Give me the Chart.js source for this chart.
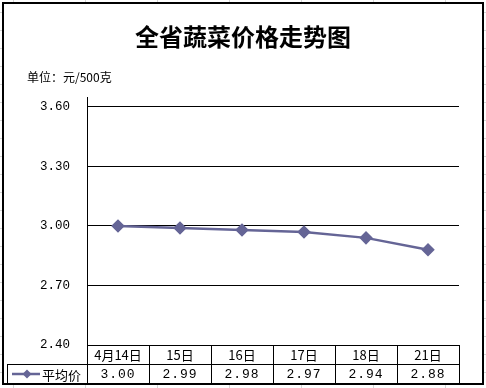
<!DOCTYPE html>
<html>
<head>
<meta charset="utf-8">
<script src="https://cdn.jsdelivr.net/npm/chart.js@4/dist/chart.umd.min.js"></script>
<style>
  html, body { margin: 0; padding: 0; background: #fff; }
  #chartBox { width: 486px; height: 388px; }
</style>
</head>
<body>
<div id="chartBox"><canvas id="chart" width="486" height="388"></canvas></div>
<script>
const categories = ['4月14日', '15日', '16日', '17日', '18日', '21日'];
const avgPrice = [3.00, 2.99, 2.98, 2.97, 2.94, 2.88];
const yTicks = [2.40, 2.70, 3.00, 3.30, 3.60];
const seriesName = '平均价';
const chartTitle = '全省蔬菜价格走势图';
const unitLabel = '单位：元/500克';

const lineColor = '#656596';
const cjkFont = '"Noto Sans CJK SC", "Noto Sans", sans-serif';
const monoFont = '"Liberation Mono", "DejaVu Sans Mono", monospace';

// sheet grid behind the chart + white chart frame
const sheetBackground = {
  id: 'sheetBackground',
  beforeDraw(chart) {
    const { ctx, width, height } = chart;
    ctx.save();
    ctx.fillStyle = '#fff';
    ctx.fillRect(0, 0, width, height);
    ctx.strokeStyle = '#d6d6d6';
    ctx.lineWidth = 1;
    for (let x = 13; x < width; x += 72) {
      ctx.beginPath();
      ctx.moveTo(x + 0.5, 0);
      ctx.lineTo(x + 0.5, height);
      ctx.stroke();
    }
    for (let y = 12; y < height; y += 18) {
      ctx.beginPath();
      ctx.moveTo(0, y + 0.5);
      ctx.lineTo(width, y + 0.5);
      ctx.stroke();
    }
    ctx.fillStyle = '#fff';
    ctx.fillRect(3, 3, width - 6, height - 7);
    ctx.strokeStyle = '#000';
    ctx.lineWidth = 2;
    ctx.strokeRect(3, 3, width - 6, height - 7);
    ctx.restore();
  }
};

// title, unit text and the data table under the plot
const titleAndTable = {
  id: 'titleAndTable',
  afterDraw(chart) {
    const { ctx, chartArea: area } = chart;
    const xScale = chart.scales.x;
    ctx.save();

    ctx.fillStyle = '#000';
    ctx.textAlign = 'center';
    ctx.textBaseline = 'middle';
    ctx.font = 'bold 24px ' + cjkFont;
    ctx.fillText(chartTitle, chart.width / 2, 37);

    ctx.textAlign = 'left';
    ctx.font = '12px ' + cjkFont;
    ctx.fillText(unitLabel, 27, 77);

    const n = categories.length;
    const colW = (area.right - area.left) / n;
    const rowH = 19;
    const row1 = area.bottom;
    const row2 = row1 + rowH;
    const bottom = row2 + rowH;
    const legendLeft = 7;

    ctx.strokeStyle = '#000';
    ctx.lineWidth = 1;
    ctx.beginPath();
    ctx.moveTo(area.left, row1 + 0.5);
    ctx.lineTo(area.right, row1 + 0.5);
    ctx.moveTo(legendLeft, row2 + 0.5);
    ctx.lineTo(area.right, row2 + 0.5);
    ctx.moveTo(legendLeft, bottom + 0.5);
    ctx.lineTo(area.right, bottom + 0.5);
    ctx.moveTo(legendLeft + 0.5, row2);
    ctx.lineTo(legendLeft + 0.5, bottom);
    for (let i = 0; i <= n; i++) {
      const cx = Math.round(area.left + i * colW) + 0.5;
      ctx.moveTo(cx, row1);
      ctx.lineTo(cx, bottom);
    }
    ctx.stroke();

    ctx.textAlign = 'center';
    categories.forEach((c, i) => {
      const cx = xScale.getPixelForValue(i);
      ctx.font = '13px ' + cjkFont;
      ctx.fillText(c, cx, row1 + rowH / 2 + 1);
      ctx.font = '13px ' + monoFont;
      ctx.letterSpacing = '1px';
      ctx.fillText(avgPrice[i].toFixed(2), cx, row2 + rowH / 2 + 1);
      ctx.letterSpacing = '0px';
    });

    // legend key
    const ly = row2 + rowH / 2 + 0.5;
    ctx.strokeStyle = lineColor;
    ctx.lineWidth = 2.5;
    ctx.beginPath();
    ctx.moveTo(12, ly);
    ctx.lineTo(40, ly);
    ctx.stroke();
    ctx.fillStyle = lineColor;
    ctx.beginPath();
    ctx.moveTo(27, ly - 4.5);
    ctx.lineTo(31.5, ly);
    ctx.lineTo(27, ly + 4.5);
    ctx.lineTo(22.5, ly);
    ctx.closePath();
    ctx.fill();
    ctx.fillStyle = '#000';
    ctx.textAlign = 'left';
    ctx.font = '13px ' + cjkFont;
    ctx.fillText(seriesName, 42, ly + 1);

    ctx.restore();
  }
};

const ctxChart = document.getElementById('chart');

const myChart = new Chart(ctxChart, {
  type: 'line',
  data: {
    labels: categories,
    datasets: [{
      label: seriesName,
      data: avgPrice,
      borderColor: lineColor,
      backgroundColor: lineColor,
      borderWidth: 2.5,
      pointStyle: 'rectRot',
      pointRadius: 5,
      pointBackgroundColor: lineColor,
      pointBorderColor: lineColor,
      tension: 0,
    }]
  },
  options: {
    responsive: false,
    animation: false,
    devicePixelRatio: 1,
    layout: {
      padding: { top: 97, right: 27, bottom: 0, left: 0 }
    },
    plugins: {
      legend: { display: false },
      title: { display: false },
      tooltip: { enabled: false }
    },
    scales: {
      x: {
        offset: true,
        grid: { display: false },
        border: { display: false },
        ticks: { display: false },
        afterFit: (s) => { s.height = 43; }
      },
      y: {
        min: 2.40,
        max: 3.65,
        afterBuildTicks: (s) => { s.ticks = yTicks.map(v => ({ value: v })); },
        afterFit: (s) => { s.width = 87; },
        grid: { color: '#000', lineWidth: 1, drawTicks: false },
        border: { display: true, color: '#000', width: 1 },
        ticks: {
          padding: 17,
          color: '#000',
          font: { family: monoFont, size: 12.5 },
          callback: (v) => Number(v).toFixed(2)
        }
      }
    }
  },
  plugins: [sheetBackground, titleAndTable],
});
</script>
</body>
</html>
